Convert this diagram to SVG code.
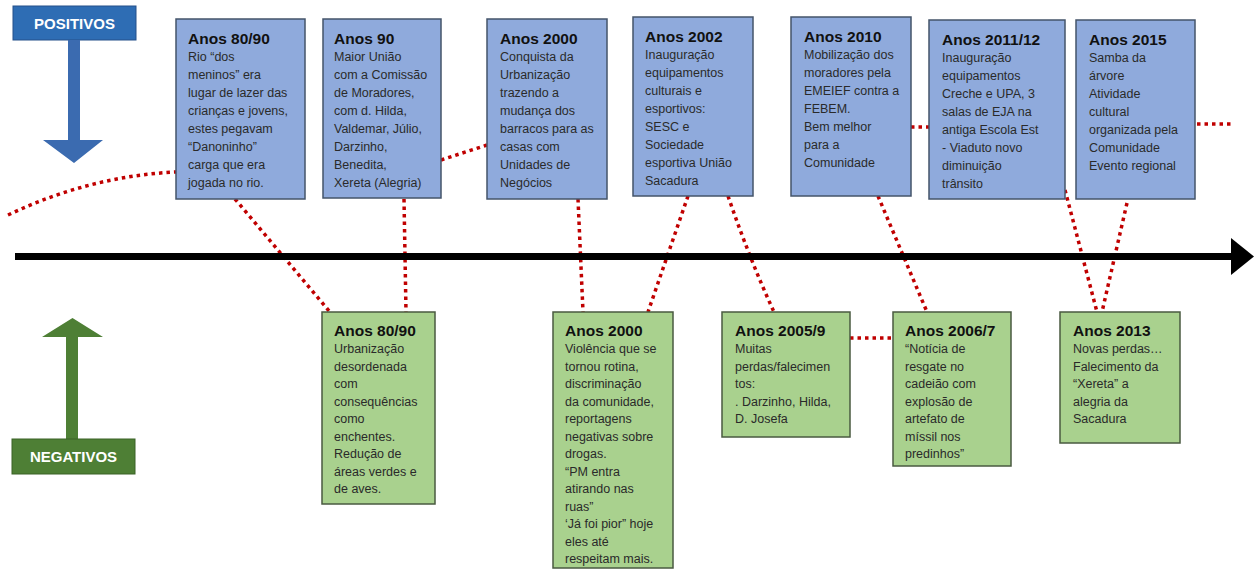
<svg xmlns="http://www.w3.org/2000/svg" width="1260" height="569" viewBox="0 0 1260 569">
<defs>
<style>
.pos{fill:#8FAADC;stroke:#44546A;stroke-width:1.5}
.neg{fill:#A9D18E;stroke:#4A5A40;stroke-width:1.5}
.t{font-family:"Liberation Sans",Arial,sans-serif;font-size:15.5px;font-weight:bold;fill:#111}
.b{font-family:"Liberation Sans",Arial,sans-serif;font-size:12.5px;fill:#2a2a2a}
.dot{fill:none;stroke:#C00000;stroke-width:3.5;stroke-dasharray:3.5 4}
.lbl{font-family:"Liberation Sans",Arial,sans-serif;font-size:15px;font-weight:bold;fill:#fff}
</style>
</defs>
<rect width="1260" height="569" fill="#fff"/>
<g id="connectors">
<path class="dot" d="M8,215 Q90,176 176,172"/>
<path class="dot" d="M235,199 L330,312"/>
<path class="dot" d="M404,199 L406,312"/>
<path class="dot" d="M441,160 L487,145"/>
<path class="dot" d="M578,199 L583,312"/>
<path class="dot" d="M688,196 L648,312"/>
<path class="dot" d="M728,196 Q750,260 774,312"/>
<path class="dot" d="M878,196 L927,312"/>
<path class="dot" d="M850,338 L893,338"/>
<path class="dot" d="M911,127 L929,127"/>
<path class="dot" d="M1065,190 L1097,312"/>
<path class="dot" d="M1127,203 L1102,312"/>
<path class="dot" d="M1197,124 L1231,124"/>
</g>
<g id="timeline">
<line x1="15" y1="256.5" x2="1234" y2="256.5" stroke="#000" stroke-width="7"/>
<polygon points="1231,238 1254,256.5 1231,275" fill="#000"/>
</g>
<g id="positivos">
<rect x="13" y="6" width="123" height="34" fill="#2E6DB4" stroke="#24508A" stroke-width="1"/>
<text class="lbl" x="74.5" y="28.5" text-anchor="middle">POSITIVOS</text>
<polygon points="68,40 80,40 80,140 103,140 74,163 43,140 68,140" fill="#3B6BB0"/>
</g>
<g id="negativos">
<polygon points="66,439 78,439 78,337 103,337 72.5,318 42,337 66,337" fill="#4E7F35"/>
<rect x="12" y="439" width="123" height="35" fill="#4E7F35" stroke="#3A6226" stroke-width="1"/>
<text class="lbl" x="73.5" y="462" text-anchor="middle">NEGATIVOS</text>
</g>
<g id="p1">
<rect class="pos" x="176" y="19" width="129" height="180"/>
<text class="t" x="188" y="44">Anos 80/90</text>
<text class="b" x="188" y="61"><tspan x="188">Rio “dos</tspan><tspan x="188" dy="18">meninos” era</tspan><tspan x="188" dy="18">lugar de lazer das</tspan><tspan x="188" dy="18">crianças e jovens,</tspan><tspan x="188" dy="18">estes pegavam</tspan><tspan x="188" dy="18">“Danoninho”</tspan><tspan x="188" dy="18">carga que era</tspan><tspan x="188" dy="18">jogada no rio.</tspan></text>
</g>
<g id="p2">
<rect class="pos" x="323" y="19" width="118" height="179"/>
<text class="t" x="334" y="44">Anos 90</text>
<text class="b" x="334" y="61"><tspan x="334">Maior União</tspan><tspan x="334" dy="18">com a Comissão</tspan><tspan x="334" dy="18">de Moradores,</tspan><tspan x="334" dy="18">com d. Hilda,</tspan><tspan x="334" dy="18">Valdemar, Júlio,</tspan><tspan x="334" dy="18">Darzinho,</tspan><tspan x="334" dy="18">Benedita,</tspan><tspan x="334" dy="18">Xereta (Alegria)</tspan></text>
</g>
<g id="p3">
<rect class="pos" x="487" y="19" width="120" height="180"/>
<text class="t" x="500" y="44">Anos 2000</text>
<text class="b" x="500" y="61"><tspan x="500">Conquista da</tspan><tspan x="500" dy="18">Urbanização</tspan><tspan x="500" dy="18">trazendo a</tspan><tspan x="500" dy="18">mudança dos</tspan><tspan x="500" dy="18">barracos para as</tspan><tspan x="500" dy="18">casas com</tspan><tspan x="500" dy="18">Unidades de</tspan><tspan x="500" dy="18">Negócios</tspan></text>
</g>
<g id="p4">
<rect class="pos" x="633" y="17" width="120" height="179"/>
<text class="t" x="645" y="42">Anos 2002</text>
<text class="b" x="645" y="59"><tspan x="645">Inauguração</tspan><tspan x="645" dy="18">equipamentos</tspan><tspan x="645" dy="18">culturais e</tspan><tspan x="645" dy="18">esportivos:</tspan><tspan x="645" dy="18">SESC e</tspan><tspan x="645" dy="18">Sociedade</tspan><tspan x="645" dy="18">esportiva União</tspan><tspan x="645" dy="18">Sacadura</tspan></text>
</g>
<g id="p5">
<rect class="pos" x="791" y="17" width="120" height="179"/>
<text class="t" x="804" y="42">Anos 2010</text>
<text class="b" x="804" y="59"><tspan x="804">Mobilização dos</tspan><tspan x="804" dy="18">moradores pela</tspan><tspan x="804" dy="18">EMEIEF contra a</tspan><tspan x="804" dy="18">FEBEM.</tspan><tspan x="804" dy="18">Bem melhor</tspan><tspan x="804" dy="18">para a</tspan><tspan x="804" dy="18">Comunidade</tspan></text>
</g>
<g id="p6">
<rect class="pos" x="929" y="20" width="136" height="179"/>
<text class="t" x="942" y="45">Anos 2011/12</text>
<text class="b" x="942" y="62"><tspan x="942">Inauguração</tspan><tspan x="942" dy="18">equipamentos</tspan><tspan x="942" dy="18">Creche e UPA, 3</tspan><tspan x="942" dy="18">salas de EJA na</tspan><tspan x="942" dy="18">antiga Escola Est</tspan><tspan x="942" dy="18">- Viaduto novo</tspan><tspan x="942" dy="18">diminuição</tspan><tspan x="942" dy="18">trânsito</tspan></text>
</g>
<g id="p7">
<rect class="pos" x="1076" y="20" width="119" height="179"/>
<text class="t" x="1089" y="45">Anos 2015</text>
<text class="b" x="1089" y="62"><tspan x="1089">Samba da</tspan><tspan x="1089" dy="18">árvore</tspan><tspan x="1089" dy="18">Atividade</tspan><tspan x="1089" dy="18">cultural</tspan><tspan x="1089" dy="18">organizada pela</tspan><tspan x="1089" dy="18">Comunidade</tspan><tspan x="1089" dy="18">Evento regional</tspan></text>
</g>
<g id="n1">
<rect class="neg" x="322" y="312" width="113" height="192"/>
<text class="t" x="334" y="336">Anos 80/90</text>
<text class="b" x="334" y="353"><tspan x="334">Urbanização</tspan><tspan x="334" dy="17.5">desordenada</tspan><tspan x="334" dy="17.5">com</tspan><tspan x="334" dy="17.5">consequências</tspan><tspan x="334" dy="17.5">como</tspan><tspan x="334" dy="17.5">enchentes.</tspan><tspan x="334" dy="17.5">Redução de</tspan><tspan x="334" dy="17.5">áreas verdes e</tspan><tspan x="334" dy="17.5">de aves.</tspan></text>
</g>
<g id="n2">
<rect class="neg" x="553" y="312" width="120" height="256"/>
<text class="t" x="565" y="336">Anos 2000</text>
<text class="b" x="565" y="353"><tspan x="565">Violência que se</tspan><tspan x="565" dy="17.5">tornou rotina,</tspan><tspan x="565" dy="17.5">discriminação</tspan><tspan x="565" dy="17.5">da comunidade,</tspan><tspan x="565" dy="17.5">reportagens</tspan><tspan x="565" dy="17.5">negativas sobre</tspan><tspan x="565" dy="17.5">drogas.</tspan><tspan x="565" dy="17.5">“PM entra</tspan><tspan x="565" dy="17.5">atirando nas</tspan><tspan x="565" dy="17.5">ruas”</tspan><tspan x="565" dy="17.5">‘Já foi pior” hoje</tspan><tspan x="565" dy="17.5">eles até</tspan><tspan x="565" dy="17.5">respeitam mais.</tspan></text>
</g>
<g id="n3">
<rect class="neg" x="722" y="312" width="128" height="125"/>
<text class="t" x="735" y="336">Anos 2005/9</text>
<text class="b" x="735" y="353"><tspan x="735">Muitas</tspan><tspan x="735" dy="17.5">perdas/falecimen</tspan><tspan x="735" dy="17.5">tos:</tspan><tspan x="735" dy="17.5">. Darzinho, Hilda,</tspan><tspan x="735" dy="17.5">D. Josefa</tspan></text>
</g>
<g id="n4">
<rect class="neg" x="893" y="312" width="118" height="154"/>
<text class="t" x="905" y="336">Anos 2006/7</text>
<text class="b" x="905" y="353"><tspan x="905">“Notícia de</tspan><tspan x="905" dy="17.5">resgate no</tspan><tspan x="905" dy="17.5">cadeião com</tspan><tspan x="905" dy="17.5">explosão de</tspan><tspan x="905" dy="17.5">artefato de</tspan><tspan x="905" dy="17.5">míssil nos</tspan><tspan x="905" dy="17.5">predinhos”</tspan></text>
</g>
<g id="n5">
<rect class="neg" x="1060" y="312" width="120" height="131"/>
<text class="t" x="1073" y="336">Anos 2013</text>
<text class="b" x="1073" y="353"><tspan x="1073">Novas perdas…</tspan><tspan x="1073" dy="17.5">Falecimento da</tspan><tspan x="1073" dy="17.5">“Xereta” a</tspan><tspan x="1073" dy="17.5">alegria da</tspan><tspan x="1073" dy="17.5">Sacadura</tspan></text>
</g>
</svg>
